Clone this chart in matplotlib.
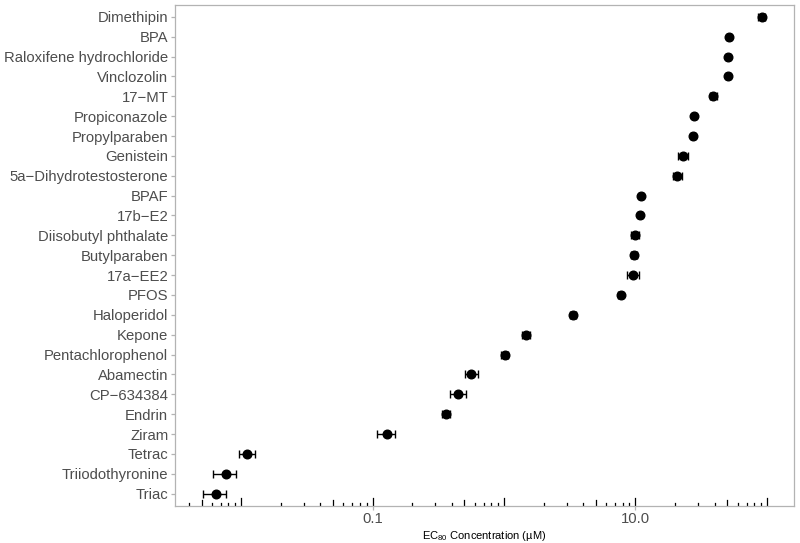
import numpy as np
import matplotlib.pyplot as plt
import matplotlib.transforms as mtransforms

plt.rcParams['font.family'] = ['Liberation Sans', 'DejaVu Sans']
plt.rcParams['mathtext.default'] = 'regular'

# chemicals, top to bottom
chemicals = ['Dimethipin', 'BPA', 'Raloxifene hydrochloride', 'Vinclozolin', '17\u2212MT',
             'Propiconazole', 'Propylparaben', 'Genistein', '5a\u2212Dihydrotestosterone',
             'BPAF', '17b\u2212E2', 'Diisobutyl phthalate', 'Butylparaben', '17a\u2212EE2',
             'PFOS', 'Haloperidol', 'Kepone', 'Pentachlorophenol', 'Abamectin',
             'CP\u2212634384', 'Endrin', 'Ziram', 'Tetrac', 'Triiodothyronine', 'Triac']

# EC80 estimate and interval (uM)
ec80 = [91.0, 51.5, 50.6, 50.6, 39.2,
        28.1, 27.3, 22.9, 20.7,
        11.0, 10.8, 9.88, 9.77, 9.54,
        7.7, 3.35, 1.46, 1.01, 0.565,
        0.443, 0.364, 0.128, 0.0111, 0.0076, 0.0064]
ec80_lo = [84.9, 49.8, 49.0, 49.0, 37.0,
           27.2, 26.4, 21.2, 19.2,
           10.6, 10.5, 9.21, 9.29, 8.63,
           7.34, 3.18, 1.36, 0.949, 0.507,
           0.385, 0.339, 0.108, 0.0096, 0.0061, 0.00515]
ec80_hi = [97.5, 53.3, 52.4, 52.4, 42.0,
           29.1, 28.3, 24.9, 22.5,
           11.4, 11.2, 10.65, 10.2, 10.6,
           8.01, 3.55, 1.57, 1.078, 0.636,
           0.509, 0.390, 0.148, 0.0128, 0.0092, 0.0076]

x_breaks = [0.1, 10.0]
x_break_labels = ['0.1', '10.0']

ec80 = np.array(ec80)
lo = np.array(ec80_lo)
hi = np.array(ec80_hi)
n = len(chemicals)
ypos = np.arange(n, 0, -1)

fig = plt.figure(figsize=(8, 5.43), dpi=100)
ax = fig.add_axes([0.219, 0.069, 0.773, 0.922])

ax.errorbar(ec80, ypos, xerr=[ec80 - lo, hi - ec80], fmt='o', color='black',
            markersize=6.2, elinewidth=1.0, capsize=3, capthick=1.0, zorder=3)

ax.set_xscale('log')
llo, lhi = np.log10(lo.min()), np.log10(hi.max())
pad = 0.05 * (lhi - llo)
ax.set_xlim(10 ** (llo - pad), 10 ** (lhi + pad))
ax.set_ylim(0.4, n + 0.6)

ax.set_xticks(x_breaks)
ax.set_xticklabels(x_break_labels)
ax.xaxis.set_minor_locator(plt.NullLocator())
ax.set_yticks(ypos)
ax.set_yticklabels(chemicals)

grey = '#b3b3b3'
for s in ax.spines.values():
    s.set_color(grey)
    s.set_linewidth(0.9)
ax.tick_params(axis='both', colors=grey, labelcolor='#4d4d4d', labelsize=10.7,
               length=3, width=0.9, direction='out', pad=2)

# log ticks along the bottom of the panel
trans = mtransforms.blended_transform_factory(ax.transData, ax.transAxes)
h_px = ax.get_position().height * fig.get_figheight() * fig.dpi
for dec in range(-4, 4):
    for m in range(1, 10):
        v = m * 10.0 ** dec
        if m == 1:
            L = 8.0
        elif m == 5:
            L = 5.4
        else:
            L = 2.7
        ax.plot([v, v], [0, L / h_px], transform=trans, color='black',
                linewidth=0.9, clip_on=True, zorder=2)

ax.set_xlabel('EC$_{80}$ Concentration (\u00b5M)', fontsize=8, color='black', labelpad=2)

fig.savefig('out.png', dpi=100)
